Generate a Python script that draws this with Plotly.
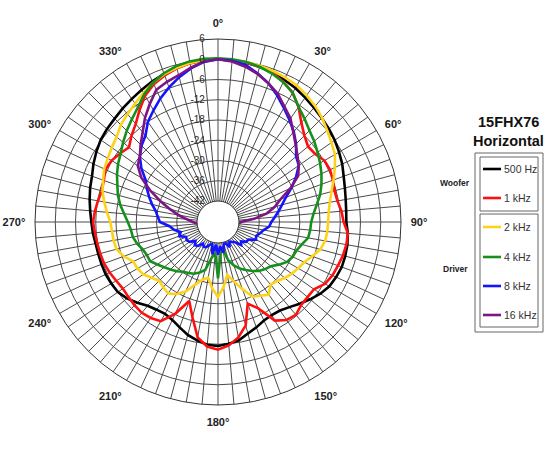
import plotly.graph_objects as go

# ---------------- data ----------------
ANGLES = list(range(0, 360, 5))  # measurement angles (deg)

SERIES_NAMES = ["500 Hz", "1 kHz", "2 kHz", "4 kHz", "8 kHz", "16 kHz"]

r_500hz = [0, -0.1, -0.3, -0.6, -1.0, -1.7, -2.4, -3.2, -4.0, -4.7, -5.3, -6.0, -6.8, -7.6, -8.6, -9.3, -9.8, -10.1,
           -10.2, -9.6, -9.3, -9.2, -9.2, -9.6, -10.1, -11.2, -12.6, -14.0, -15.3, -16.2, -16.4, -16.0, -15.0, -14.0, -12.6, -12.0,
           -11.5, -11.7, -12.6, -13.6, -15.0, -16.2, -16.8, -16.5, -15.8, -14.4, -13.0, -12.0, -11.7, -11.5, -11.5, -11.5, -11.4, -11.0,
           -10.7, -10.2, -9.6, -9.0, -8.5, -7.5, -6.6, -5.8, -5.3, -4.9, -4.3, -3.7, -3.0, -2.2, -1.5, -0.9, -0.4, -0.1]

r_1khz = [0, -0.1, -0.3, -0.6, -1.1, -2.4, -4.0, -6.6, -9.8, -12.0, -13.4, -13.1, -11.8, -11.6, -12.0, -12.5, -12.3, -11.5,
          -11.0, -9.6, -9.6, -9.9, -10.4, -10.8, -11.6, -13.5, -13.6, -13.4, -12.3, -12.8, -14.5, -20.0, -22.5, -16.5, -13.5, -11.5,
          -10.4, -11.2, -13.5, -19.0, -23.3, -18.2, -14.3, -13.5, -13.1, -13.3, -13.6, -13.8, -13.4, -12.8, -12.3, -12.1, -11.9, -11.6,
          -11.2, -11.6, -12.1, -12.6, -12.2, -11.4, -11.8, -12.8, -13.8, -12.0, -10.3, -7.7, -5.0, -3.2, -2.0, -1.1, -0.5, -0.1]

r_2khz = [0, 0, -0.1, -0.3, -0.6, -1.0, -1.5, -2.4, -3.4, -4.6, -6.0, -7.2, -8.2, -10.0, -11.8, -13.4, -14.6, -15.3,
          -15.6, -15.7, -16.0, -16.8, -18.5, -20.0, -20.8, -21.5, -22.4, -23.5, -24.0, -22.0, -23.0, -23.8, -27.0, -30.0, -32.3, -29.0,
          -26.0, -28.5, -31.5, -30.5, -28.5, -25.5, -23.5, -22.4, -23.0, -23.6, -22.5, -21.2, -20.7, -20.5, -18.5, -17.1, -16.8, -16.7,
          -16.3, -15.2, -14.0, -12.8, -12.0, -11.0, -10.5, -9.8, -9.0, -7.5, -6.5, -5.4, -4.0, -2.7, -1.6, -0.9, -0.4, -0.1]

r_4khz = [0.3, 0.2, -0.1, -0.6, -1.4, -2.5, -4.0, -6.6, -8.3, -9.9, -11.0, -12.2, -13.3, -14.4, -15.6, -16.9, -18.5, -19.8,
          -20.6, -20.8, -21.1, -22.5, -23.5, -23.8, -24.6, -26.2, -27.8, -28.5, -29.3, -30.5, -31.8, -33.0, -34.5, -36.5, -40.0, -39.0,
          -31.5, -39.0, -37.5, -33.5, -32.3, -31.3, -30.8, -30.2, -29.2, -28.3, -27.4, -26.3, -25.0, -25.0, -24.5, -23.4, -22.6, -22.3,
          -21.5, -20.3, -18.8, -17.5, -16.5, -15.2, -14.0, -13.0, -11.5, -10.0, -8.5, -6.8, -4.5, -2.7, -1.3, -0.4, 0.1, 0.3]

r_8khz = [0, -0.3, -1.0, -2.7, -4.5, -6.8, -9.2, -11.3, -13.3, -15.5, -18.0, -19.0, -21.5, -24.2, -26.8, -28.6, -30.0, -31.3,
          -32.4, -33.0, -34.5, -35.3, -36.2, -35.8, -37.8, -38.0, -39.3, -38.5, -40.5, -41.0, -41.5, -40.0, -41.5, -41.5, -39.0, -41.0,
          -38.5, -41.5, -38.5, -41.5, -41.0, -40.0, -39.7, -40.5, -39.0, -38.5, -39.5, -38.0, -37.5, -37.8, -36.0, -36.8, -35.0, -33.8,
          -31.0, -30.3, -29.5, -28.0, -26.5, -25.0, -23.5, -20.5, -18.0, -16.2, -14.8, -12.0, -10.0, -7.8, -5.8, -3.8, -2.0, -0.6]

# 16 kHz falls below the -42 dB floor behind the driver, so only the front arc is plotted
ANGLES_16KHZ = [265, 270, 275, 280, 285, 290, 295, 300, 305, 310, 315, 320, 325, 330, 335, 340, 345, 350, 355,
                0, 5, 10, 15, 20, 25, 30, 35, 40, 45, 50, 55, 60, 65, 70, 75, 80, 85, 90, 95]
r_16khz = [-42.0, -40.8, -39.0, -36.3, -33.5, -30.0, -26.0, -22.0, -19.2, -18.0, -15.8, -13.5, -10.5, -7.8, -5.0, -4.0, -3.2, -1.8, -0.5,
           0, -0.5, -1.5, -2.8, -4.5, -6.3, -8.8, -10.8, -13.5, -15.7, -17.5, -19.0, -20.8, -24.5, -28.5, -30.8, -33.5, -37.5, -41.5, -42.0]

RADIAL_TICKS = [-42, -36, -30, -24, -18, -12, -6, 0, 6]
ANGLE_LABEL_STEP = 30
WOOFER_GROUP = ["500 Hz", "1 kHz"]
DRIVER_GROUP = ["2 kHz", "4 kHz", "8 kHz", "16 kHz"]
TITLE_LINES = ["15FHX76", "Horizontal"]

# ---------------- style ----------------
COLORS = {"500 Hz": "#000000", "1 kHz": "#ff1010", "2 kHz": "#ffd21a",
          "4 kHz": "#16901c", "8 kHz": "#1414ff", "16 kHz": "#7d1486"}
FONT = "Liberation Sans, Arial, Helvetica, sans-serif"
W, H = 550, 450
LABEL_PAD = "\u00a0" * 4  # keeps radial labels just left of the 0° spoke

fig = go.Figure()

series = [
    ("500 Hz", ANGLES, r_500hz),
    ("1 kHz", ANGLES, r_1khz),
    ("2 kHz", ANGLES, r_2khz),
    ("4 kHz", ANGLES, r_4khz),
    ("8 kHz", ANGLES, r_8khz),
]
for name, th, rr in series:
    fig.add_trace(go.Scatterpolar(
        r=rr + [rr[0]], theta=th + [th[0]], mode="lines", name=name,
        line=dict(color=COLORS[name], width=2.6), showlegend=False))
fig.add_trace(go.Scatterpolar(
    r=r_16khz, theta=ANGLES_16KHZ, mode="lines", name="16 kHz",
    line=dict(color=COLORS["16 kHz"], width=2.6), showlegend=False))

ang_text = [f"{a}°" if a % ANGLE_LABEL_STEP == 0 else "" for a in ANGLES]

cx0, cx1 = 35, 401
cy0, cy1 = 39, 405
fig.update_layout(
    width=W, height=H,
    margin=dict(l=0, r=0, t=0, b=0),
    paper_bgcolor="white",
    font=dict(family=FONT),
    polar=dict(
        domain=dict(x=[cx0 / W, cx1 / W], y=[1 - cy1 / H, 1 - cy0 / H]),
        hole=21 / 183,
        bgcolor="white",
        radialaxis=dict(
            range=[-42, 6], tickvals=RADIAL_TICKS,
            ticktext=[f"{v}{LABEL_PAD}" for v in RADIAL_TICKS],
            angle=90, tickangle=90, side="counterclockwise",
            showline=False, ticks="",
            gridcolor="#4a4a4a", gridwidth=1,
            tickfont=dict(size=10, color="#2a2a2a", family=FONT),
        ),
        angularaxis=dict(
            rotation=90, direction="clockwise",
            tickmode="array", tickvals=ANGLES, ticktext=ang_text,
            ticks="outside", ticklen=7, tickcolor="rgba(0,0,0,0)",
            showline=True, linecolor="#333333", linewidth=1,
            gridcolor="#4a4a4a", gridwidth=1,
            tickfont=dict(size=11, color="#222222", family=FONT, weight="bold"),
        ),
    ),
)

# ---------------- legend panel ----------------
def px(x):
    return x / W

def py(y):
    return 1 - y / H

shapes = []
def rect(x0, y0, x1, y1):
    shapes.append(dict(type="rect", xref="paper", yref="paper",
                       x0=px(x0), x1=px(x1), y0=py(y1), y1=py(y0),
                       line=dict(color="#666666", width=1), fillcolor="rgba(0,0,0,0)"))

rect(475, 153, 543, 332)
rect(480, 157, 538, 211)
rect(480, 214, 538, 327)

annotations = []
item_y = [169, 198, 227, 257, 286, 315]
for name, y in zip(WOOFER_GROUP + DRIVER_GROUP, item_y):
    shapes.append(dict(type="line", xref="paper", yref="paper",
                       x0=px(483), x1=px(501), y0=py(y), y1=py(y),
                       line=dict(color=COLORS[name], width=2.6)))
    annotations.append(dict(x=px(502), y=py(y), xref="paper", yref="paper",
                            text=name, showarrow=False, xanchor="left", yanchor="middle",
                            font=dict(size=10.5, color="#333333", family=FONT)))

annotations.append(dict(x=px(508), y=py(122), xref="paper", yref="paper", text=TITLE_LINES[0],
                        showarrow=False, xanchor="center", yanchor="middle",
                        font=dict(size=14.5, color="#111111", family=FONT, weight="bold")))
annotations.append(dict(x=px(508), y=py(141), xref="paper", yref="paper", text=TITLE_LINES[1],
                        showarrow=False, xanchor="center", yanchor="middle",
                        font=dict(size=14.5, color="#111111", family=FONT, weight="bold")))
annotations.append(dict(x=px(472), y=py(183), xref="paper", yref="paper", text="Woofer",
                        showarrow=False, xanchor="right", yanchor="middle",
                        font=dict(size=8.5, color="#222222", family=FONT, weight="bold")))
annotations.append(dict(x=px(470), y=py(269), xref="paper", yref="paper", text="Driver",
                        showarrow=False, xanchor="right", yanchor="middle",
                        font=dict(size=8.5, color="#222222", family=FONT, weight="bold")))

fig.update_layout(shapes=shapes, annotations=annotations)

fig.write_html("out.html", config={"displayModeBar": False},
               post_script="document.body.style.margin='0';document.body.style.overflow='hidden';")
